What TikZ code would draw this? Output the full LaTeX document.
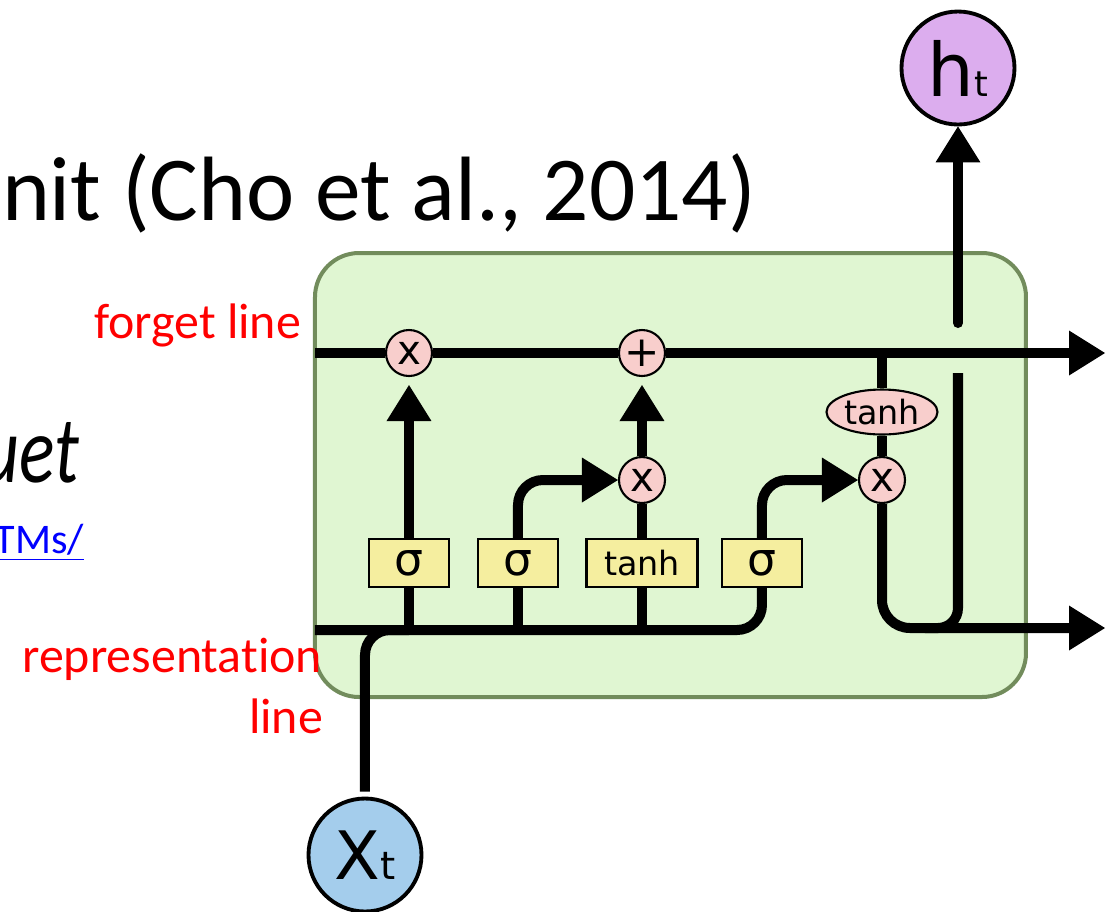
\documentclass[tikz,border=0pt]{standalone}
\usepackage{fontspec}
\setmainfont{Carlito}[Ligatures=NoCommon]
\newfontfamily\dejavu{DejaVu Sans}
\usetikzlibrary{arrows.meta,positioning,shapes.geometric}

\definecolor{cellgreen}{HTML}{E0F6D2}
\definecolor{celledge}{HTML}{728C5C}
\definecolor{oppink}{HTML}{F8CECC}
\definecolor{gateyellow}{HTML}{F5EE9F}
\definecolor{inblue}{HTML}{A4CDEC}
\definecolor{outpurple}{HTML}{DCADEE}

\begin{document}
\begin{tikzpicture}[>={Triangle[length=0.36cm,width=0.45cm,line width=0pt]},
		line width=0.1cm,
		op/.style={circle, draw, line width=0.6pt, fill=oppink, minimum size=0.46cm, inner sep=0pt, font=\dejavu\fontsize{11.5}{11.5}\selectfont},
		gate/.style={rectangle, draw, line width=0.6pt, fill=gateyellow, minimum width=0.8cm, minimum height=0.48cm, inner sep=0pt, font=\dejavu\fontsize{13}{13}\selectfont},
		io/.style={circle, draw, line width=1.1pt, minimum size=1.13cm, inner sep=0pt},
		lbl/.style={text=red, inner sep=0pt, font=\fontsize{14.2}{17}\selectfont}]

	\useasboundingbox (0,0) rectangle (11.13,-9.11);
	\clip (0,0) rectangle (11.13,-9.11);

	\draw[line width=0.04cm, draw=celledge, fill=cellgreen, rounded corners=0.44cm] (3.15,-2.53) rectangle (10.26,-6.97);

	\node[anchor=base west, inner sep=0pt, font=\fontsize{26}{30}\selectfont] (title) at (-0.03,-2.20) {nit (Cho et al., 2014)};
	\node[anchor=base east, inner sep=0pt, xscale=0.78, transform shape, font=\itshape\fontsize{27}{32}\selectfont] (quote) at (0.83,-4.82) {uet};
	\node[anchor=base east, inner sep=0pt, text=blue, font=\fontsize{12}{14}\selectfont] (link) at (0.89,-5.53) {\underline{TMs/}};
	\node[lbl, anchor=base east] (forgetlbl) at (3.06,-3.38) {forget line};
	\node[lbl, anchor=base east] (replbl) at (3.27,-6.72) {representation};
	\node[lbl, anchor=base east] (replbl2) at (3.28,-7.33) {line};

	\node[op] (m1) at (4.09,-3.53) {x};
	\node[op, font=\dejavu\fontsize{12}{12}\selectfont] (p1) at (6.42,-3.53) {+};
	\node[op] (m2) at (6.42,-4.80) {x};
	\node[op, ellipse, minimum width=1.11cm, minimum height=0.45cm, font=\dejavu\fontsize{9.5}{9.5}\selectfont] (th2) at (8.82,-4.12) {tanh};
	\node[op] (m3) at (8.82,-4.80) {x};

	\node[gate] (g1) at (4.09,-5.63) {σ};
	\node[gate] (g2) at (5.18,-5.63) {σ};
	\node[gate, minimum width=1.11cm, font=\dejavu\fontsize{9.5}{9.5}\selectfont] (g3) at (6.42,-5.63) {tanh};
	\node[gate] (g4) at (7.62,-5.63) {σ};

	\node[io, fill=outpurple, font=\dejavu\fontsize{21}{21}\selectfont] (ht) at (9.58,-0.68) {h{\fontsize{10}{10}\selectfont t}};
	\node[io, fill=inblue, font=\dejavu\fontsize{19}{19}\selectfont] (xt) at (3.65,-8.55) {X{\fontsize{11}{11}\selectfont t}};

	\coordinate (fin) at (3.15,-3.53);
	\coordinate (fout) at (11.05,-3.53);
	\coordinate (fbranch) at (8.82,-3.53);
	\coordinate (rin) at (3.15,-6.30);
	\coordinate (hout) at (11.05,-6.28);
	\coordinate (hlow) at (9.58,-3.73);
	\coordinate (hjoin) at (9.25,-6.28);
	\coordinate (hup) at (9.58,-3.23);

	\draw[->] (fin) -- (m1) -- (p1) -- (fout);
	\draw (fbranch) -- (th2) -- (m3);
	\draw[->, rounded corners=0.28cm] (m3) |- (hout);
	\draw[rounded corners=0.2cm] (hlow) |- (hjoin);
	\draw[->, line cap=round] (hup) -- (ht);

	\draw[rounded corners=0.25cm] (rin) -| (g4);
	\draw (g1) -- (g1 |- rin);
	\draw (g2) -- (g2 |- rin);
	\draw (g3) -- (g3 |- rin);
	\draw[rounded corners=0.25cm, shorten <=0.05cm] (xt) |- (g1 |- rin);

	\draw[->, shorten >=0.08cm] (g1) -- (m1);
	\draw[->, rounded corners=0.25cm] (g2) |- (m2);
	\draw (g3) -- (m2);
	\draw[->, shorten >=0.08cm] (m2) -- (p1);
	\draw[->, rounded corners=0.25cm] (g4) |- (m3);

\end{tikzpicture}
\end{document}
